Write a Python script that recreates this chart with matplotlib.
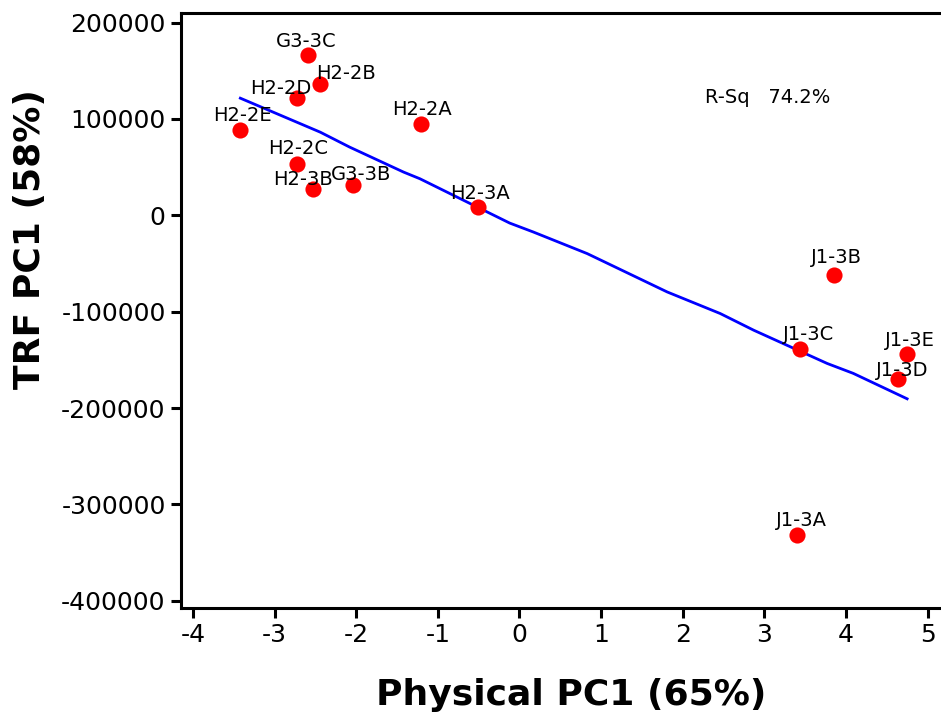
import matplotlib
matplotlib.use("Agg")
import matplotlib.pyplot as plt

plt.rcParams["axes.unicode_minus"] = False

# -----------------------------
# Data
# -----------------------------
samples = ["G3-3C", "H2-2B", "H2-2D", "H2-2E", "H2-2A", "H2-2C", "H2-3B",
           "G3-3B", "H2-3A", "J1-3B", "J1-3C", "J1-3E", "J1-3D", "J1-3A"]
physical_pc1 = [-2.59, -2.45, -2.73, -3.42, -1.21, -2.73, -2.53,
                -2.04, -0.51, 3.85, 3.44, 4.75, 4.64, 3.40]
trf_pc1 = [166800, 136500, 121600, 88100, 94300, 53600, 27700,
           31800, 8600, -61500, -139200, -144400, -169900, -331600]

# fitted (smoothed) line vertices
fit_x = [-3.42, -2.44, -2.08, -1.42, -1.22, -0.12, 0.17, 0.83,
         1.81, 2.46, 2.87, 3.77, 4.09, 4.75]
fit_y = [121600, 86300, 70800, 44900, 38000, -8000, -17300, -39700,
         -79500, -101900, -119200, -153700, -164000, -190400]

r_sq_text = "R-Sq   74.2%"

# label offsets (points) relative to each marker
label_offsets = [(-1, 9.5), (19, 7.5), (-11.5, 7), (1.5, 11), (1, 11), (1, 11), (-7, 6.5),
                 (6, 7.5), (1.5, 10), (2, 12), (6, 11), (2, 10), (3, 6.5), (3, 10)]

# -----------------------------
# Plot
# -----------------------------
fig = plt.figure(figsize=(9.41, 7.19), dpi=100)
ax = fig.add_axes([181 / 941, 111 / 719, 780 / 941, 595 / 719])

ax.plot(fit_x, fit_y, color="#0000ff", linewidth=2.0, zorder=2)
ax.scatter(physical_pc1, trf_pc1, s=135, color="#ff0000", zorder=3, linewidths=0)

for name, x, y, off in zip(samples, physical_pc1, trf_pc1, label_offsets):
    ax.annotate(name, (x, y), xytext=off, textcoords="offset points",
                ha="center", va="center", fontsize=14, zorder=4)

ax.text(2.27, 122300, r_sq_text, ha="left", va="center", fontsize=14)

ax.set_xlim(-4.147, 5.41)
ax.set_ylim(-407500, 210000)
ax.set_xticks(range(-4, 6))
ax.set_yticks(range(-400000, 200001, 100000))

ax.spines["right"].set_visible(False)
for side in ["left", "bottom", "top"]:
    ax.spines[side].set_linewidth(2.2)
ax.tick_params(axis="both", direction="out", length=7, width=2.2,
               labelsize=18, pad=4)

ax.set_xlabel("Physical PC1 (65%)", fontsize=26, fontweight="bold", labelpad=22)
ax.set_ylabel("TRF PC1 (58%)", fontsize=26, fontweight="bold")
ax.yaxis.set_label_coords(-0.172, 0.62)

fig.savefig("out.png", dpi=100)
